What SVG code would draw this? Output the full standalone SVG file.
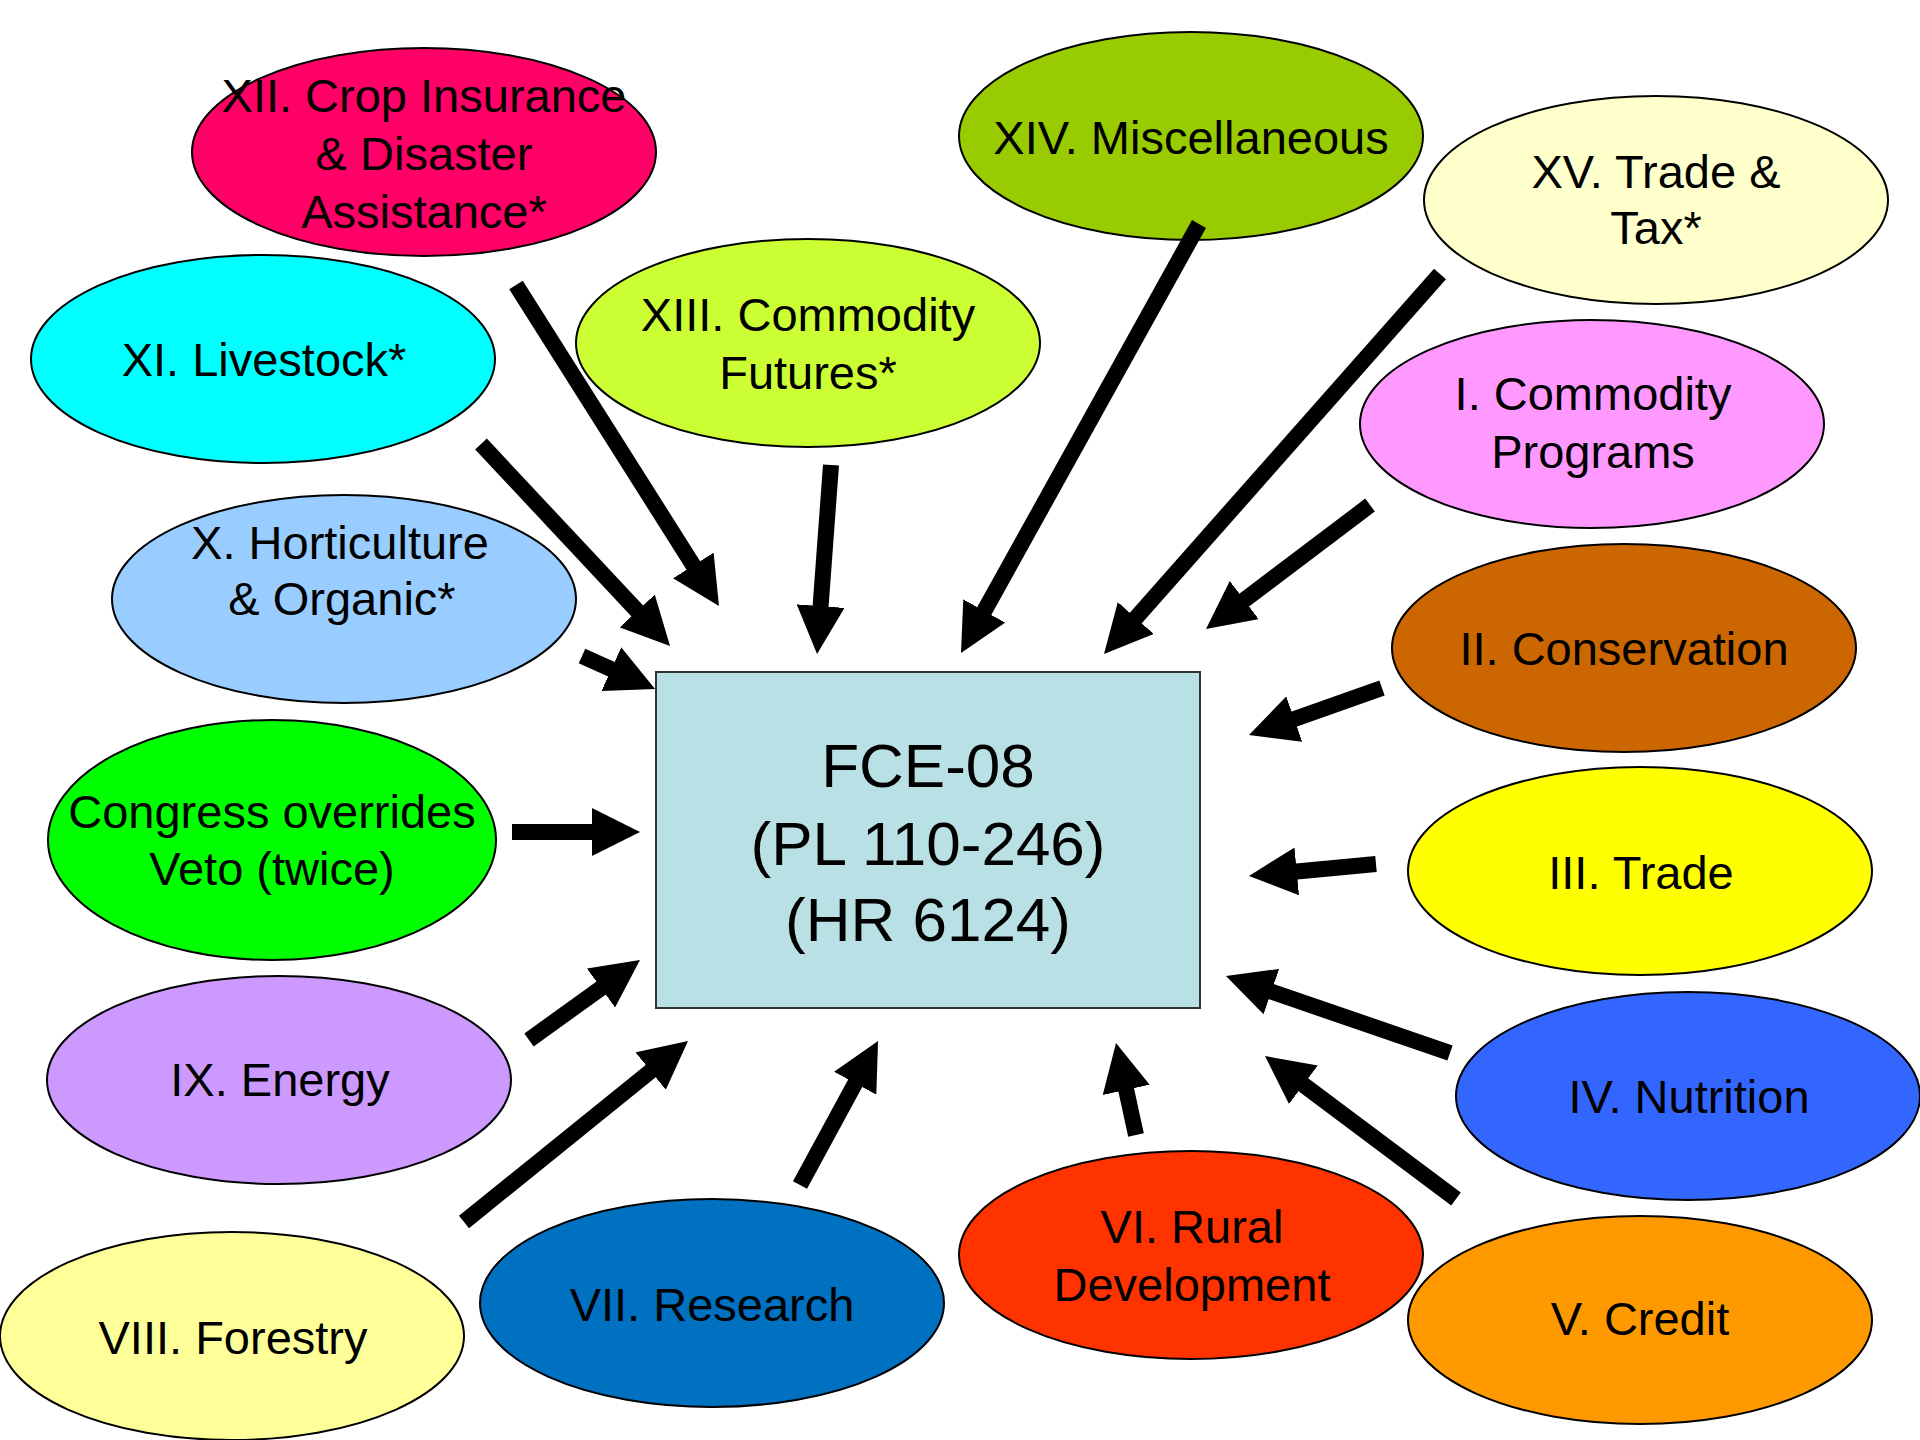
<svg xmlns="http://www.w3.org/2000/svg" width="1920" height="1440" viewBox="0 0 1920 1440">
<style>
.n ellipse{stroke:#000;stroke-width:2}
.n text{font-family:"Liberation Sans",Arial,sans-serif;font-size:47px;fill:#000;text-anchor:middle}
.c path{fill:none;stroke:#000;stroke-width:16;marker-end:url(#ah)}
.hub text{font-family:"Liberation Sans",Arial,sans-serif;font-size:62px;fill:#000;text-anchor:middle}
</style>
<defs>
<marker id="ah" markerUnits="userSpaceOnUse" viewBox="0 0 48 48" refX="8" refY="24" markerWidth="48" markerHeight="48" orient="auto">
<path d="M0,0 L48,24 L0,48 z" fill="#000"/>
</marker>
</defs>
<rect width="1920" height="1440" fill="#fff"/>
<g id="hub" class="hub">
<rect x="656" y="672" width="544" height="336" fill="#B9E0E4" stroke="#333" stroke-width="2"/>
<text x="928" y="787">FCE-08</text>
<text x="928" y="865">(PL 110-246)</text>
<text x="928" y="941">(HR 6124)</text>
</g>
<g id="n12" class="n"><ellipse cx="424" cy="152" rx="232" ry="104" fill="#FF0066"/><text x="424" y="112">XII. Crop Insurance</text><text x="424" y="170">&amp; Disaster</text><text x="424" y="228">Assistance*</text></g>
<g id="n11" class="n"><ellipse cx="263" cy="359" rx="232" ry="104" fill="#00FFFF"/><text x="264" y="376">XI. Livestock*</text></g>
<g id="n13" class="n"><ellipse cx="808" cy="343" rx="232" ry="104" fill="#CCFF33"/><text x="808" y="331">XIII. Commodity</text><text x="808" y="389">Futures*</text></g>
<g id="n14" class="n"><ellipse cx="1191" cy="136" rx="232" ry="104" fill="#99CC00"/><text x="1191" y="154">XIV. Miscellaneous</text></g>
<g id="n15" class="n"><ellipse cx="1656" cy="200" rx="232" ry="104" fill="#FFFFCC"/><text x="1656" y="188">XV. Trade &amp;</text><text x="1656" y="244">Tax*</text></g>
<g id="n1" class="n"><ellipse cx="1592" cy="424" rx="232" ry="104" fill="#FF99FF"/><text x="1593" y="410">I. Commodity</text><text x="1593" y="468">Programs</text></g>
<g id="n2" class="n"><ellipse cx="1624" cy="648" rx="232" ry="104" fill="#CC6600"/><text x="1624" y="665">II. Conservation</text></g>
<g id="n3" class="n"><ellipse cx="1640" cy="871" rx="232" ry="104" fill="#FFFF00"/><text x="1641" y="889">III. Trade</text></g>
<g id="n4" class="n"><ellipse cx="1688" cy="1096" rx="232" ry="104" fill="#3366FF"/><text x="1689" y="1113">IV. Nutrition</text></g>
<g id="n5" class="n"><ellipse cx="1640" cy="1320" rx="232" ry="104" fill="#FF9900"/><text x="1640" y="1335">V. Credit</text></g>
<g id="n6" class="n"><ellipse cx="1191" cy="1255" rx="232" ry="104" fill="#FF3300"/><text x="1192" y="1243">VI. Rural</text><text x="1192" y="1301">Development</text></g>
<g id="n7" class="n"><ellipse cx="712" cy="1303" rx="232" ry="104" fill="#0070C0"/><text x="712" y="1321">VII. Research</text></g>
<g id="n8" class="n"><ellipse cx="232" cy="1336" rx="232" ry="104" fill="#FFFF99"/><text x="233" y="1354">VIII. Forestry</text></g>
<g id="n9" class="n"><ellipse cx="279" cy="1080" rx="232" ry="104" fill="#CC99FF"/><text x="280" y="1096">IX. Energy</text></g>
<g id="veto" class="n"><ellipse cx="272" cy="840" rx="224" ry="120" fill="#00FF00"/><text x="272" y="828">Congress overrides</text><text x="272" y="885">Veto (twice)</text></g>
<g id="n10" class="n"><ellipse cx="344" cy="599" rx="232" ry="104" fill="#99CCFF"/><text x="340" y="559">X. Horticulture</text><text x="342" y="615">&amp; Organic*</text></g>
<g id="connectors" class="c">
<path d="M516,285 L697.6,572.2"/>
<path d="M481,444 L642.7,616.8"/>
<path d="M582,656 L618.6,672.5"/>
<path d="M831,465 L820,614.1"/>
<path d="M1199,224 L980.4,618"/>
<path d="M1440,274 L1130.5,624"/>
<path d="M1370,505 L1237.9,604.9"/>
<path d="M1382,688 L1286.7,721.7"/>
<path d="M1376,864 L1288.8,872.2"/>
<path d="M1450,1053 L1263.8,989"/>
<path d="M1456,1199 L1297,1080"/>
<path d="M1136,1135 L1124.5,1082.1"/>
<path d="M800,1185 L859,1076.2"/>
<path d="M464,1222 L656.9,1066.1"/>
<path d="M529,1040 L607.5,983.4"/>
<path d="M512,832 L600,832"/>
</g>
</svg>
